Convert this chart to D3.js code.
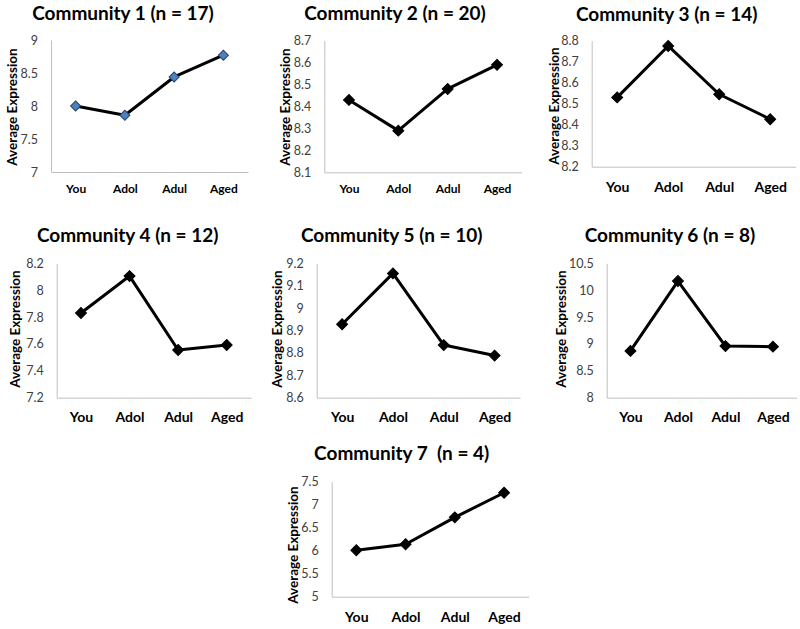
<!DOCTYPE html>
<html><head><meta charset="utf-8">
<script src="https://cdn.jsdelivr.net/npm/d3@7"></script>
<style>
html,body{margin:0;padding:0;background:#fff;}
svg{display:block;}
text{font-family:Lato,"Open Sans",sans-serif;white-space:pre;}
</style></head>
<body>
<svg id="chart" width="800" height="629"></svg>
<script>
// ---- data ----
const categories = ["You", "Adol", "Adul", "Aged"];
const titles = ["Community 1 (n = 17)", "Community 2 (n = 20)", "Community 3 (n = 14)",
  "Community 4 (n = 12)", "Community 5 (n = 10)", "Community 6 (n = 8)", "Community 7  (n = 4)"];
const yLabel = "Average Expression";
const community1 = [8.00, 7.86, 8.44, 8.77];
const community2 = [8.43, 8.29, 8.48, 8.59];
const community3 = [8.53, 8.775, 8.545, 8.426];
const community4 = [7.83, 8.105, 7.555, 7.592];
const community5 = [8.928, 9.155, 8.835, 8.788];
const community6 = [8.87, 10.17, 8.96, 8.95];
const community7 = [6.01, 6.14, 6.725, 7.26];
const ticks1 = [7, 7.5, 8, 8.5, 9];
const ticks2 = [8.1, 8.2, 8.3, 8.4, 8.5, 8.6, 8.7];
const ticks3 = [8.2, 8.3, 8.4, 8.5, 8.6, 8.7, 8.8];
const ticks4 = [7.2, 7.4, 7.6, 7.8, 8, 8.2];
const ticks5 = [8.6, 8.7, 8.8, 8.9, 9, 9.1, 9.2];
const ticks6 = [8, 8.5, 9, 9.5, 10, 10.5];
const ticks7 = [5, 5.5, 6, 6.5, 7, 7.5];

// ---- layout (positions / styles) ----
const layout = [
  {x0:51,    x1:248,   yT:40,    yB:172,   tx:123,   ty:20,    lb:193,   ls:12, ax:12,    ay:107, fill:"#4F81BD", stroke:"#24406B", ms:50},
  {x0:324.3, x1:521.7, yT:40.7,  yB:172.3, tx:395,   ty:20,    lb:193,   ls:12, ax:285,   ay:107},
  {x0:591.7, x1:795.7, yT:40.7,  yB:166.7, tx:666.7, ty:20.5,  lb:192,   ls:14, ax:554,   ay:106},
  {x0:56.7,  x1:251,   yT:263.3, yB:397.7, tx:127.7, ty:241.7, lb:421.7, ls:14, ax:15,    ay:329},
  {x0:316.7, x1:520,   yT:263.3, yB:397.7, tx:391.7, ty:241.7, lb:421.7, ls:14, ax:277.3, ay:329},
  {x0:606.7, x1:796.7, yT:263.3, yB:397.7, tx:670,   ty:241.7, lb:421.7, ls:14, ax:561.7, ay:329},
  {x0:331.7, x1:528.7, yT:481.7, yB:596.7, tx:401.7, ty:460,   lb:621.7, ls:14, ax:293,   ay:545}
];

const series = [community1, community2, community3, community4, community5, community6, community7];
const tickSets = [ticks1, ticks2, ticks3, ticks4, ticks5, ticks6, ticks7];

const svg = d3.select("#chart");

series.forEach((vals, i) => {
  const L = layout[i];
  const ticks = tickSets[i];
  const g = svg.append("g");

  const x = d3.scalePoint().domain(categories).range([L.x0, L.x1]).padding(0.5);
  const y = d3.scaleLinear().domain([d3.min(ticks), d3.max(ticks)]).range([L.yB, L.yT]);

  // y axis
  const ya = g.append("g").attr("transform", `translate(${L.x0},0)`)
    .call(d3.axisLeft(y).tickValues(ticks).tickSize(0).tickPadding(13).tickFormat(d => String(+d.toFixed(2))));
  ya.select(".domain").attr("stroke", "#BFBFBF").attr("stroke-width", 1);
  ya.selectAll("text").attr("font-size", 12.5).attr("fill", "#404040")
    .style("font-family", "Lato, 'Open Sans', sans-serif");

  // x axis
  const xa = g.append("g").attr("transform", `translate(0,${L.yB})`)
    .call(d3.axisBottom(x).tickSize(0).tickPadding(0));
  xa.select(".domain").attr("stroke", "#BFBFBF").attr("stroke-width", 1);
  xa.selectAll("text").attr("y", L.lb - L.yB).attr("dy", 0)
    .attr("font-size", L.ls).attr("font-weight", "bold").attr("fill", "#000")
    .style("font-family", "Lato, 'Open Sans', sans-serif");

  // line
  const line = d3.line().x((d, j) => x(categories[j])).y(d => y(d));
  g.append("path").datum(vals).attr("d", line)
    .attr("fill", "none").attr("stroke", "#000").attr("stroke-width", 3).attr("stroke-linejoin", "round");

  // markers (rotated squares)
  const sym = d3.symbol().type(d3.symbolSquare).size(L.ms || 60);
  g.selectAll("path.mk").data(vals).enter().append("path").attr("class", "mk")
    .attr("d", sym)
    .attr("transform", (d, j) => `translate(${x(categories[j])},${y(d)}) rotate(45)`)
    .attr("fill", L.fill || "#000")
    .attr("stroke", L.stroke || "#000")
    .attr("stroke-width", 1);

  // title
  g.append("text").attr("x", L.tx).attr("y", L.ty).attr("text-anchor", "middle")
    .attr("font-size", 19).attr("font-weight", "bold").attr("fill", "#000").text(titles[i]);

  // y label
  g.append("text").attr("transform", `translate(${L.ax},${L.ay}) rotate(-90)`)
    .attr("text-anchor", "middle").attr("dy", "0.35em")
    .attr("font-size", 13.5).attr("font-weight", "bold").attr("fill", "#000").text(yLabel);
});
</script>
</body></html>
